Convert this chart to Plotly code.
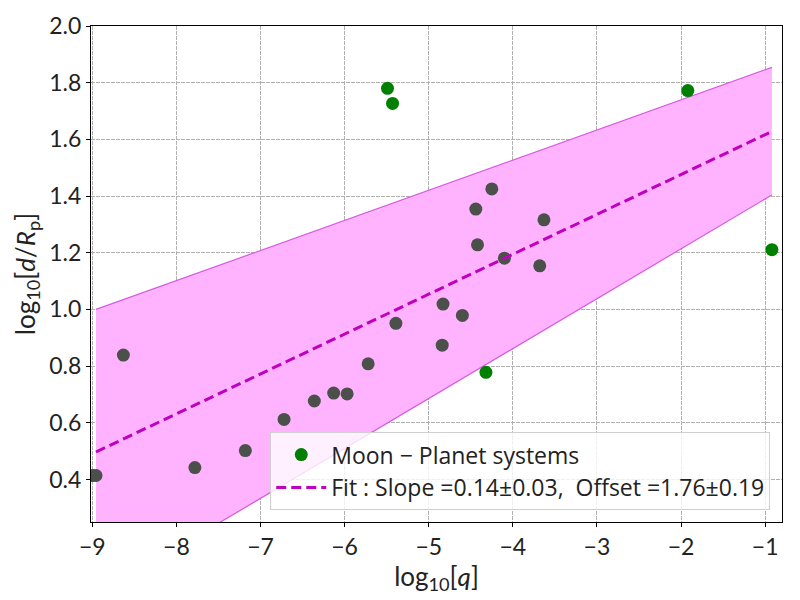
import plotly.graph_objects as go

# grey points (used for the fit)
grey_x = [-8.955, -8.63, -7.78, -7.18, -6.72, -6.36, -6.13, -5.97, -5.72, -5.39,
          -4.84, -4.83, -4.60, -4.44, -4.42, -4.25, -4.10, -3.68, -3.63]
grey_y = [0.414, 0.839, 0.442, 0.502, 0.612, 0.677, 0.705, 0.702, 0.808, 0.951,
          0.874, 1.019, 0.979, 1.354, 1.228, 1.425, 1.181, 1.154, 1.316]

# green points (Moon - Planet systems)
green_x = [-8.995, -5.49, -5.43, -4.32, -1.92, -0.92]
green_y = [0.414, 1.780, 1.727, 0.778, 1.772, 1.211]

# fit line and uncertainty band, read at the two ends of the band
band_x = [-8.956, -0.92]
fit_y = [0.497, 1.628]
band_upper = [1.000, 1.854]
band_lower = [-0.011, 1.404]

legend_fit = "Fit : Slope =0.14±0.03,\u00a0\u00a0Offset =1.76±0.19"
legend_moon = "Moon − Planet systems"

fnt = "Lato, DejaVu Sans, sans-serif"
edge = "rgba(214,90,224,1)"

fig = go.Figure()
fig.add_trace(go.Scatter(x=band_x, y=band_lower, mode="lines",
                         line=dict(color=edge, width=1.2),
                         showlegend=False, hoverinfo="skip"))
fig.add_trace(go.Scatter(x=band_x, y=band_upper, mode="lines",
                         line=dict(color=edge, width=1.2),
                         fill="tonexty", fillcolor="#ffb3ff",
                         showlegend=False, hoverinfo="skip"))
fig.add_trace(go.Scatter(x=green_x, y=green_y, mode="markers", name=legend_moon,
                         marker=dict(color="green", size=13)))
fig.add_trace(go.Scatter(x=grey_x, y=grey_y, mode="markers", showlegend=False,
                         marker=dict(color="#4b504b", size=13)))
fig.add_trace(go.Scatter(x=band_x, y=fit_y, mode="lines", name=legend_fit,
                         line=dict(color="#bf00bf", width=3, dash="10px,5px")))

axis_common = dict(
    showline=True, linecolor="black", linewidth=1.3, mirror=True,
    ticks="outside", ticklen=4, tickcolor="black", automargin=False,
    showgrid=True, gridcolor="#b0b0b0", gridwidth=0.8, griddash="3.5px,1.5px",
    zeroline=False, tickfont=dict(size=23, color="#222"),
)

fig.update_xaxes(range=[-9.015, -0.80], tickvals=[-9, -8, -7, -6, -5, -4, -3, -2, -1],
                 title=dict(text="log<sub>10</sub>[<i>q</i>]", font=dict(size=26), standoff=0),
                 **axis_common)
fig.update_yaxes(range=[0.25, 2.0], tickvals=[0.4, 0.6, 0.8, 1.0, 1.2, 1.4, 1.6, 1.8, 2.0],
                 tickformat=".1f",
                 title=dict(text="log<sub>10</sub>[<i>d</i>/<i>R</i><sub>p</sub>]",
                            font=dict(size=26), standoff=6),
                 **axis_common)

# page body adds an 8px margin, so the figure is made 8px smaller on each side
fig.update_layout(
    width=792, height=592,
    margin=dict(l=83, r=18, t=18, b=78),
    plot_bgcolor="white", paper_bgcolor="white",
    font=dict(family=fnt, color="#222"),
    legend=dict(x=0.983, y=0.024, xanchor="right", yanchor="bottom",
                traceorder="normal",
                bgcolor="rgba(255,255,255,0.8)", bordercolor="#d0d0d0", borderwidth=1,
                font=dict(size=23, family="Open Sans, Lato, sans-serif"),
                tracegroupgap=0, itemwidth=50),
)

fig.write_html("out.html")
